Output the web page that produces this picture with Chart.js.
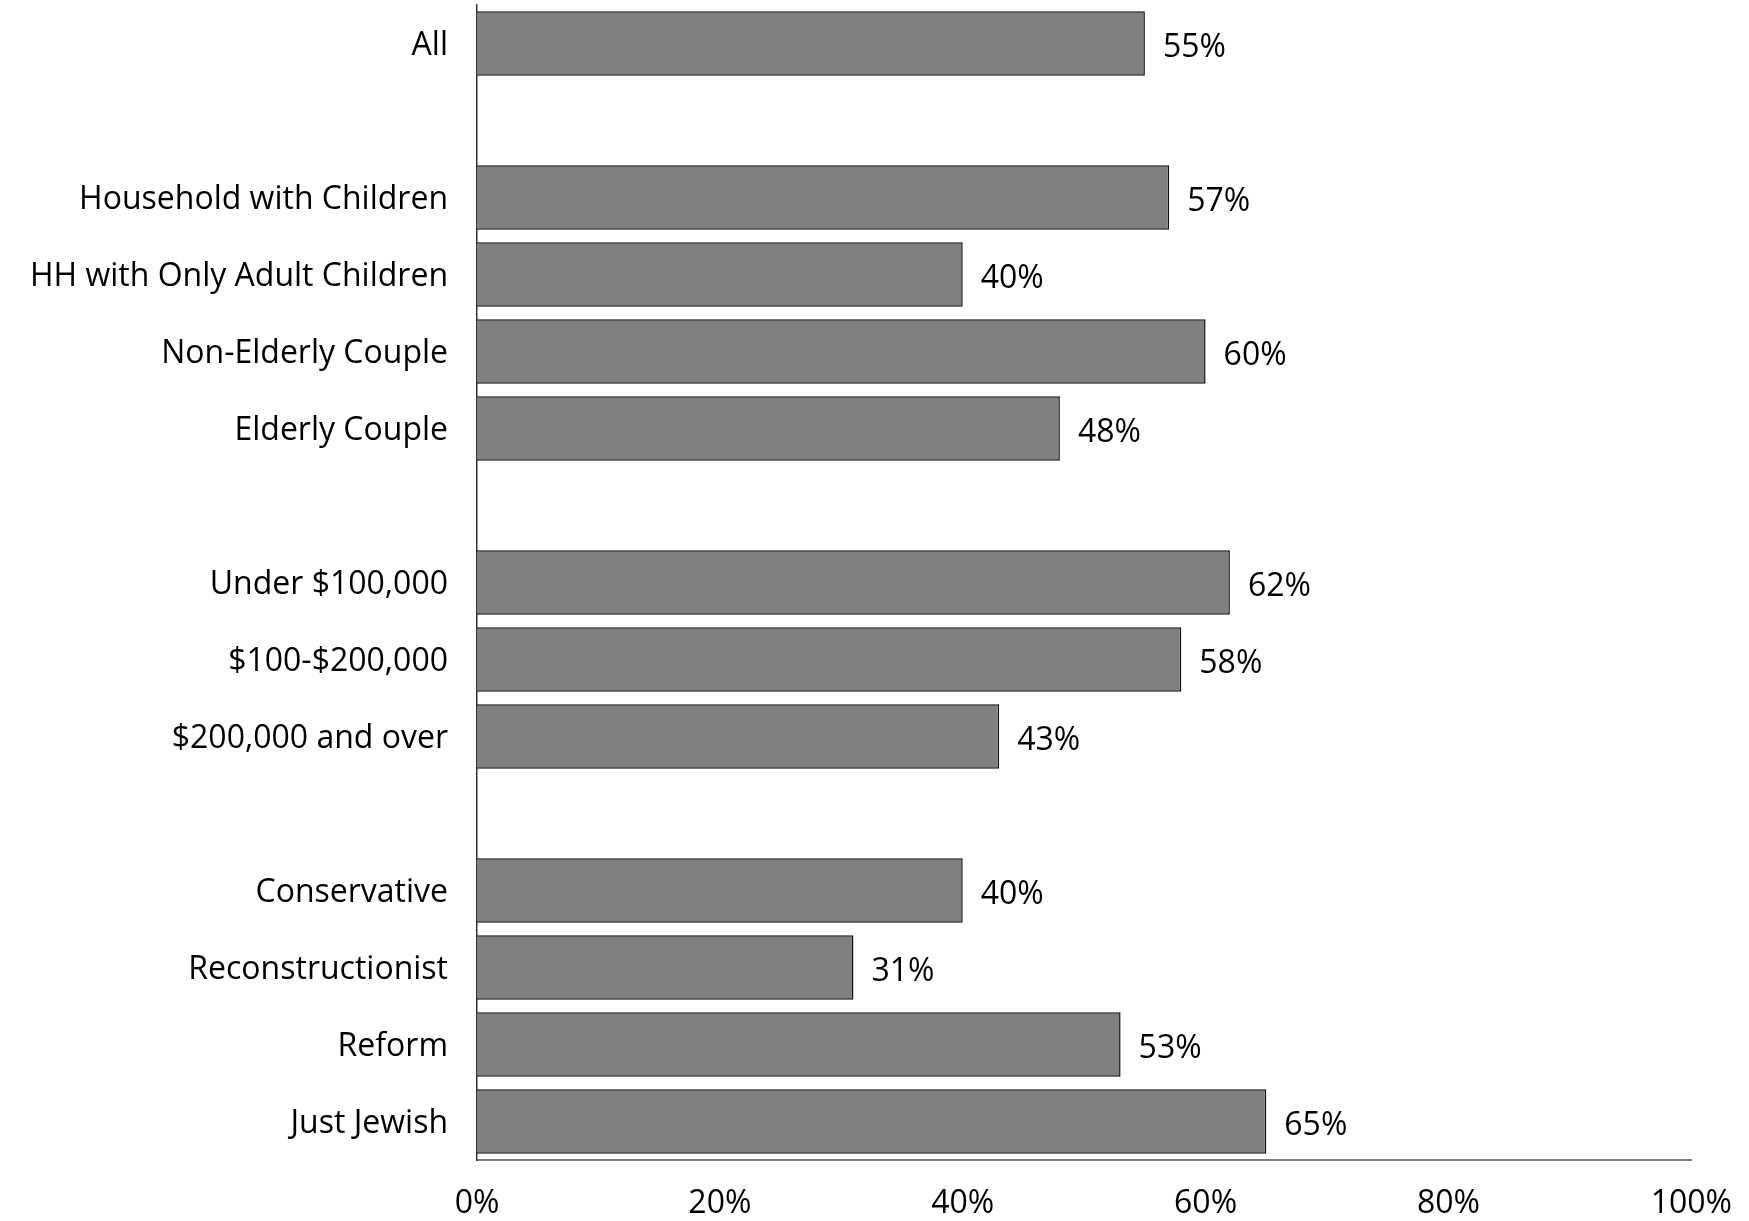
<!DOCTYPE html>
<html lang="en">
<head>
  <meta charset="UTF-8">
  <title>Chart</title>
  <script src="https://cdn.jsdelivr.net/npm/chart.js"></script>
  <style>
    html, body { margin: 0; padding: 0; background: #fff; }
    #wrap { width: 1749px; height: 1221px; }
  </style>
</head>
<body>
  <div id="wrap"><canvas id="grafico" width="1749" height="1221"></canvas></div>

<script>
// categorias (linhas vazias separam os grupos)
const categorias = [
  "All", "",
  "Household with Children", "HH with Only Adult Children", "Non-Elderly Couple", "Elderly Couple", "",
  "Under $100,000", "$100-$200,000", "$200,000 and over", "",
  "Conservative", "Reconstructionist", "Reform", "Just Jewish"
];
const valores = [55, null, 57, 40, 60, 48, null, 62, 58, 43, null, 40, 31, 53, 65];
const ticksX = [0, 20, 40, 60, 80, 100];

const fonte = "'Open Sans', sans-serif";

// rótulos de valor ao lado das barras
const rotulos = {
  id: "rotulos",
  afterDatasetsDraw(chart) {
    const ctx = chart.ctx;
    const meta = chart.getDatasetMeta(0);
    ctx.save();
    ctx.font = "32px " + fonte;
    ctx.fillStyle = "#000";
    ctx.textAlign = "left";
    ctx.textBaseline = "middle";
    meta.data.forEach((bar, i) => {
      if (valores[i] == null) return;
      ctx.fillText(valores[i] + "%", bar.x + 18, bar.y + 4);
    });
    ctx.restore();
  }
};

new Chart(document.getElementById("grafico"), {
  type: "bar",
  data: {
    labels: categorias,
    datasets: [{
      data: valores,
      backgroundColor: "#808080",
      borderColor: "#111",
      borderWidth: 1.5,
      borderSkipped: "start",
      barPercentage: 0.84,
      categoryPercentage: 1
    }]
  },
  options: {
    indexAxis: "y",
    responsive: false,
    animation: false,
    layout: { padding: { top: 5, right: 57, left: 0, bottom: 0 } },
    plugins: {
      legend: { display: false },
      tooltip: { enabled: false }
    },
    scales: {
      x: {
        min: 0,
        max: 100,
        afterBuildTicks(scale) {
          scale.ticks = ticksX.map(v => ({ value: v }));
        },
        afterFit(scale) { scale.height = 61; },
        grid: { display: false },
        border: { display: true, color: "#7a7a7a", width: 2 },
        ticks: {
          color: "#000",
          font: { family: fonte, size: 32 },
          padding: 17,
          callback: v => v + "%"
        }
      },
      y: {
        afterFit(scale) {
          scale.width = 477;
          scale.paddingTop = 0;
          scale.paddingBottom = 0;
        },
        grid: { display: false },
        border: { display: true, color: "#333", width: 1.5 },
        ticks: {
          color: "#000",
          font: { family: fonte, size: 32 },
          padding: 21,
          labelOffset: 2,
          autoSkip: false
        }
      }
    }
  },
  plugins: [rotulos]
});
</script>
</body>
</html>
